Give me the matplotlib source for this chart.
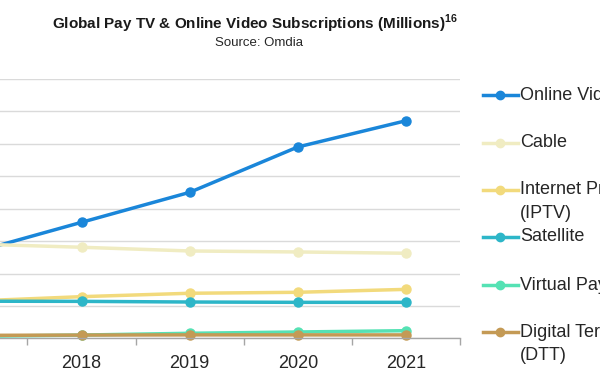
import matplotlib
matplotlib.use("Agg")
import matplotlib.pyplot as plt
from matplotlib.lines import Line2D

plt.rcParams['font.family'] = ['Liberation Sans', 'DejaVu Sans']
plt.rcParams['mathtext.fontset'] = 'custom'
plt.rcParams['mathtext.bf'] = 'Liberation Sans:bold'

years = [2017, 2018, 2019, 2020, 2021]
online_video = [530, 716, 901, 1181, 1343]
cable = [582, 562, 539, 533, 525]
iptv = [230, 257, 278, 284, 302]
satellite = [229, 228, 224, 222, 222]
virtual_pay = [12, 20, 31, 39, 47]
dtt = [18, 20, 21, 21, 21]

labels = ["Online Video", "Cable", "Internet Protocol TV\n(IPTV)", "Satellite",
          "Virtual Pay TV", "Digital Terrestrial TV\n(DTT)"]
series = [online_video, cable, iptv, satellite, virtual_pay, dtt]
colors = ["#1a86d9", "#f0ecc2", "#f2da7c", "#2db6c8", "#55e2b4", "#c49a55"]

W, H = 600, 380
fig = plt.figure(figsize=(6, 3.8), dpi=100)
ax_left, ax_right = 0, 460
ax_top, ax_bottom = 79.1, 338.3
ax = fig.add_axes([ax_left / W, 1 - ax_bottom / H, (ax_right - ax_left) / W,
                   (ax_bottom - ax_top) / H])

lines = []
for vals, col, lab in zip(series, colors, labels):
    ln, = ax.plot(years, vals, color=col, lw=2.5, marker='o', ms=6.5,
                  solid_capstyle='round', label=lab, clip_on=False)
    lines.append(ln)

ax.set_ylim(0, 1600)
ax.set_xlim(2017.246, 2021.5)
ax.set_yticks(range(0, 1601, 200))
ax.yaxis.grid(True, color="#dadada", lw=1)
ax.set_axisbelow(True)
ax.tick_params(axis='y', left=False, labelleft=False)
for s in ['left', 'right', 'top']:
    ax.spines[s].set_visible(False)
ax.spines['bottom'].set_color('#a6a6a6')
ax.spines['bottom'].set_linewidth(1)

ax.set_xticks(years[1:])
ax.set_xticklabels([str(y) for y in years[1:]], fontsize=13, color='#262626')
ax.set_xticks([2017.5, 2018.5, 2019.5, 2020.5, 2021.5], minor=True)
ax.tick_params(axis='x', which='major', length=0, pad=12)
ax.tick_params(axis='x', which='minor', length=5, color='#a6a6a6', width=1)

# Title
fig.text(255 / W, 1 - 24 / H,
         "Global Pay TV & Online Video Subscriptions (Millions)$^{\\mathbf{16}}$",
         ha='center', va='center', fontsize=11, fontweight='bold', color='#1a1a1a')
fig.text(259 / W, 1 - 43 / H, "Source: Omdia", ha='center', va='center',
         fontsize=9.5, color='#262626')

# Legend (manual layout)
entry_y = [95, 142.7, 190, 236.7, 285, 332.3]
line_gap = 23
for ln, lab, y in zip(lines, labels, entry_y):
    fig.add_artist(Line2D([483 / W, 518 / W], [1 - y / H, 1 - y / H],
                          color=ln.get_color(), lw=2.5, transform=fig.transFigure))
    fig.add_artist(Line2D([500.5 / W], [1 - y / H], color=ln.get_color(),
                          marker='o', ms=6, transform=fig.transFigure))
    for i, part in enumerate(lab.split("\n")):
        fig.text(520 / W, 1 - (y + i * line_gap) / H, part, ha='left', va='center',
                 fontsize=13, color='#262626')

fig.savefig("out.png", dpi=100)
